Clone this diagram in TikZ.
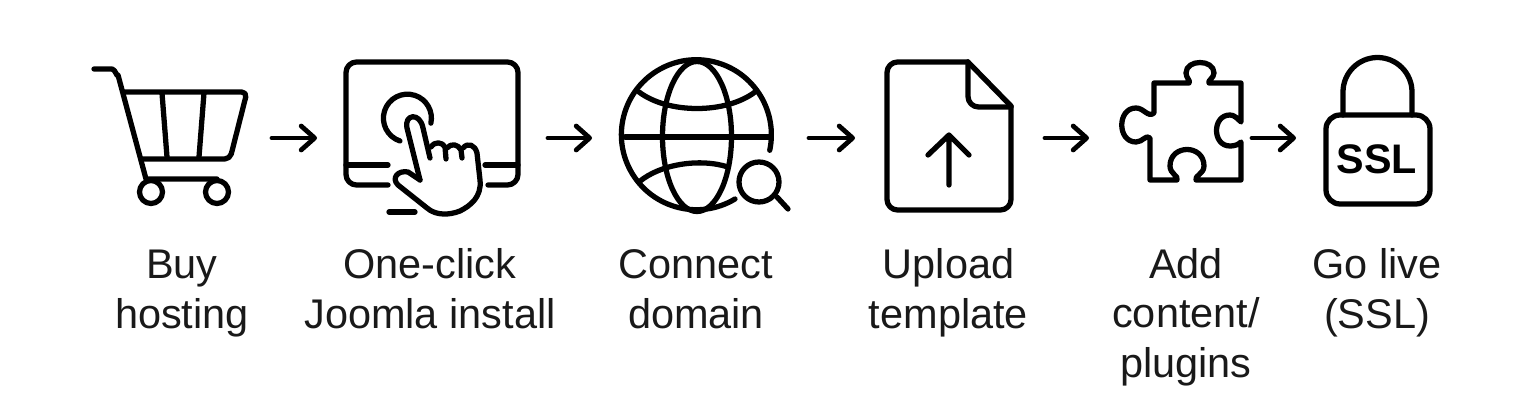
\documentclass[tikz,border=0pt]{standalone}
\usepackage{fontspec}
\setmainfont{Liberation Sans}
\usetikzlibrary{arrows.meta}
\tikzset{
 icon/.style={line width=3pt, line cap=round, line join=round},
 spot/.style={inner sep=0pt, outer sep=0pt, minimum height=2mm},
 flow/.style={line width=2.7pt, line cap=round, -{Straight Barb[length=2.7mm,width=4.8mm,line width=2.7pt,round]}},
 caption/.style={align=center, anchor=base, font=\fontsize{23.6}{28}\selectfont, text=black!90}
}
\begin{document}
\begin{tikzpicture}[x=0.02cm,y=-0.02cm]
\useasboundingbox (0,0) rectangle (1536,402);
\node[spot, minimum width=36.8mm](cart) at (180,138){};
\node[spot, minimum width=46.2mm](click) at (432.5,138){};
\node[spot, minimum width=43.4mm](globe) at (700.5,138){};
\node[spot, minimum width=38mm](file) at (950,138){};
\node[spot, minimum width=32.6mm](puzzle) at (1170.5,138){};
\node[spot, minimum width=28.8mm](lock) at (1368,138){};
\foreach \from/\to in {cart/click,click/globe,globe/file,file/puzzle,puzzle/lock}
 \draw[flow] (\from) -- (\to);

\draw[icon] (94,69) -- (112,69) to[out=0,in=-105] (118,75) -- (146,179) -- (217,179);
\draw[icon, rounded corners=3pt] (124,92) -- (247,92) -- (230,159) -- (142,159);
\draw[icon] (162,93) -- (167,157) (204,93) -- (199,157);
\draw[icon] (151,192) circle (11.5) (217,192) circle (11.5);

\draw[icon, rounded corners=6pt] (388,185) -- (346,185) -- (346,62) -- (518,62) -- (518,185) -- (488,185);
\draw[icon] (346,165) -- (388,165) (485,165) -- (518,165) (389,212) -- (415,212);
\draw[icon] (400,141) arc (108:372:24);
\draw[icon] (420,180) -- (407,128) .. controls (404,114) and (420,112) .. (423,128) -- (430,158);
\draw[icon] (431,147) .. controls (435,141) and (442,142) .. (445,147) -- (446,159);
\draw[icon] (447,148) .. controls (451,143) and (458,144) .. (461,150) -- (462,158);
\draw[icon] (463,148) .. controls (468,142) and (475,145) .. (477,153) -- (480,180) .. controls (482,197) and (470,206) .. (460,211) .. controls (450,215) and (436,216) .. (427,208) -- (398,185) .. controls (391,178) and (398,170) .. (408,172) -- (420,180);

\draw[icon] (735,199) arc (59:372:75);
\draw[icon] (625,137) -- (770,137);
\draw[icon] (697,136.5) ellipse (34.5 and 75);
\draw[icon] (639,92) .. controls (668,114) and (726,114) .. (755,92);
\draw[icon] (639,182) .. controls (660,164) and (700,158) .. (728,167);
\draw[icon] (759,182) circle (20);
\draw[icon] (777,197) -- (788,209);

\draw[icon, rounded corners=6pt] (968,62) -- (887,62) -- (887,210) -- (1011,210) -- (1011,106);
\draw[icon] (968,62) -- (1011,106);
\draw[icon, rounded corners=6pt] (968,62) -- (968,107) -- (1011,107);
\draw[icon] (949,185) -- (949,135) (928,155) -- (949,135) -- (969,155);

\draw[icon] (1154,83) -- (1189,83) .. controls (1191,81) and (1186,78) .. (1186,73) .. controls (1186,59) and (1214,59) .. (1214,73) .. controls (1214,78) and (1207,81) .. (1209,83) -- (1241,83) -- (1241,122) .. controls (1237,118) and (1234,115) .. (1230,115) .. controls (1212,115) and (1212,146) .. (1230,146) .. controls (1234,146) and (1238,145) .. (1241,142) -- (1241,180) -- (1196,180) .. controls (1194,176) and (1204,174) .. (1204,166) .. controls (1204,144) and (1170,144) .. (1170,166) .. controls (1170,174) and (1179,176) .. (1177,180) -- (1150,180) -- (1150,138) .. controls (1146,134) and (1143,142) .. (1136,142) .. controls (1117,142) and (1117,108) .. (1136,108) .. controls (1144,108) and (1148,118) .. (1154,113) -- cycle;

\draw[icon, rounded corners=8pt] (1326,115) rectangle (1430,204);
\draw[icon] (1343,115) -- (1343,92) arc (180:360:34.5) -- (1412,115);
\node[font=\fontsize{23.5}{28}\selectfont\bfseries](ssl) at (1377,159){SSL};

\node[caption](buy) at (182,328){Buy\\hosting};
\node[caption](install) at (430,328){One-click\\Joomla install};
\node[caption](domain) at (696,328){Connect\\domain};
\node[caption](template) at (948.5,328){Upload\\template};
\node[caption](plugins) at (1186,377){Add\\content/\\plugins};
\node[caption](live) at (1377,328){Go live\\(SSL)};
\end{tikzpicture}
\end{document}
